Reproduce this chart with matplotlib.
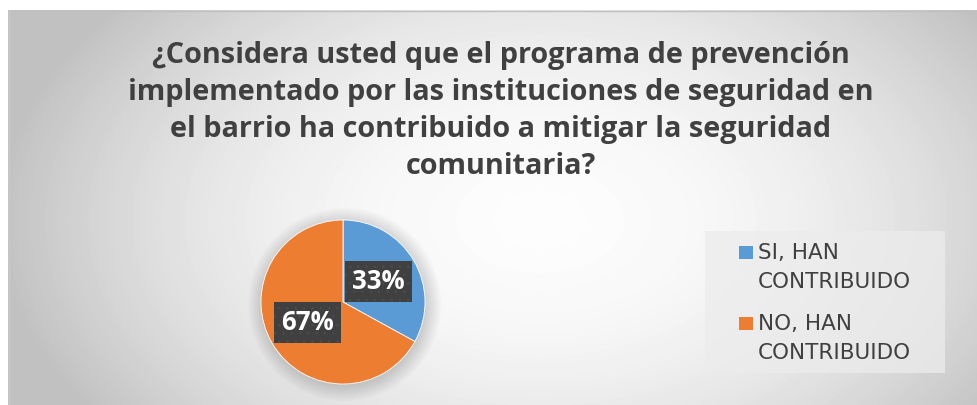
import numpy as np
import matplotlib.pyplot as plt
from matplotlib.patches import Rectangle, Circle

# Survey answers
labels = ["SI, HAN\nCONTRIBUIDO", "NO, HAN\nCONTRIBUIDO"]
values = [33, 67]
colors = ["#5B9BD5", "#ED7D31"]
title_lines = ["¿Considera usted que el programa de prevención",
               "implementado por las instituciones de seguridad en",
               "el barrio ha contribuido a mitigar la seguridad",
               "comunitaria?"]

W, H = 978, 405
plt.rcParams["font.family"] = ["Open Sans", "DejaVu Sans"]
plt.rcParams["hatch.linewidth"] = 0.6
fig = plt.figure(figsize=(W / 100, H / 100), dpi=100, facecolor="white")

# background: radial grey gradient of the chart area
bg = fig.add_axes([8 / W, 0, 1 - 8 / W, (H - 10) / H])
yy, xx = np.mgrid[10:H, 8:W]
d = np.sqrt(((xx - 540) / 540.0) ** 2 + ((yy - 220) / 340.0) ** 2)
shade = np.clip(0.99 - 0.23 * d ** 2, 0.76, 1.0)
bg.imshow(shade, cmap="gray", vmin=0, vmax=1, aspect="auto",
          extent=[8, W, H, 10], interpolation="bilinear")
bg.set_xlim(8, W)
bg.set_ylim(H, 10)
bg.axis("off")
bg.plot([8, W], [10.5, 10.5], color="#c0c0c0", lw=1)
bg.plot([8.5, 8.5], [10, H], color="#c8c8c8", lw=1)

# title, one line at a time on its baseline
for i, line in enumerate(title_lines):
    fig.text(501 / W, 1 - (63 + 37 * i) / H, line, ha="center", va="baseline",
             fontsize=20.8, fontweight="bold", color="#404040")

# pie
cx, cy, r = 343, 302, 82
half = r * 1.25
ax = fig.add_axes([(cx - half) / W, (H - cy - half) / H, 2 * half / W, 2 * half / H])
ax.set_aspect("equal")
ax.axis("off")
for k in range(8):
    ax.add_patch(Circle((0.02, -0.03), 1.0 + 0.025 * k, color="black",
                        alpha=0.018, lw=0, zorder=0))
wedges, texts, pcts = ax.pie(values, colors=colors, startangle=90, counterclock=False,
                             autopct="%1.0f%%", pctdistance=0.5, radius=1.0,
                             wedgeprops=dict(edgecolor="white", linewidth=0.6))
ax.set_xlim(-1.25, 1.25)
ax.set_ylim(-1.25, 1.25)
for t in pcts:
    t.set_color("white")
    t.set_fontsize(18.5)
    t.set_fontweight("bold")
    t.set_bbox(dict(boxstyle="square,pad=0.27", facecolor="#404040",
                    edgecolor="#4c4c4c", hatch="..", linewidth=0))

# legend
fig.patches.append(Rectangle((705 / W, 1 - 373 / H), 240 / W, 142 / H,
                             transform=fig.transFigure, facecolor="#ececec",
                             alpha=0.75, edgecolor="none"))
for i, (lab, col) in enumerate(zip(labels, colors)):
    base = 259 + i * 71
    fig.patches.append(Rectangle((739 / W, 1 - base / H), 14 / W, 13 / H,
                                 transform=fig.transFigure, facecolor=col,
                                 edgecolor="none"))
    for j, part in enumerate(lab.split("\n")):
        fig.text(758 / W, 1 - (base + 29 * j) / H, part, ha="left", va="baseline",
                 fontsize=15.5, color="#404040", family="DejaVu Sans")

fig.savefig("out.png", dpi=100)
